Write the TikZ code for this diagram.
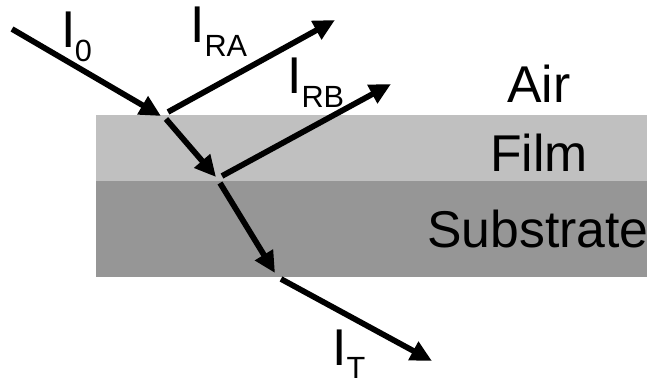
\documentclass[tikz,border=0pt]{standalone}
\usepackage{fontspec}
\setmainfont{Liberation Sans}
\usetikzlibrary{arrows.meta}
\newcommand\bigI[1]{I\kern-0.5pt\raisebox{-10pt}{\fontsize{23pt}{25pt}\selectfont #1}}
\begin{document}
\begin{tikzpicture}[x=0.75pt,y=-0.75pt,
  ray/.style={line width=4.3pt,-{Triangle[length=16pt,width=15pt]}},
  lab/.style={inner sep=0pt,anchor=base west,font=\fontsize{38.8pt}{40pt}\selectfont},
  mat/.style={inner sep=0pt,anchor=base,font=\fontsize{38.8pt}{40pt}\selectfont}]
\useasboundingbox (0,0) rectangle (647,381);
\fill[fill={rgb,255:red,192;green,192;blue,192}] (96,115) rectangle (647,181);
\fill[fill={rgb,255:red,150;green,150;blue,150}] (96,181) rectangle (647,277);
\node[mat] (air) at (539,103) {Air};
\node[mat] (film) at (539,172) {Film};
\node[mat] (sub) at (538,248) {Substrate};
\coordinate (a0) at (12,29);
\coordinate (a1) at (161,116);
\coordinate (b0) at (168,112);
\coordinate (b1) at (335,20);
\coordinate (c0) at (166,119);
\coordinate (c1) at (216,177);
\coordinate (d0) at (222,176);
\coordinate (d1) at (391,84);
\coordinate (e0) at (220,183);
\coordinate (e1) at (275,273);
\coordinate (f0) at (281,279);
\coordinate (f1) at (432,361);
\draw[ray] (a0) -- (a1);
\draw[ray] (b0) -- (b1);
\draw[ray] (c0) -- (c1);
\draw[ray] (d0) -- (d1);
\draw[ray] (e0) -- (e1);
\draw[ray] (f0) -- (f1);
\node[lab] (i0) at (61,48) {\bigI{0}};
\node[lab] (ira) at (190.6,43) {\bigI{RA}};
\node[lab] (irb) at (287.6,94) {\bigI{RB}};
\node[lab] (it) at (332.6,365) {\bigI{T}};
\end{tikzpicture}
\end{document}
